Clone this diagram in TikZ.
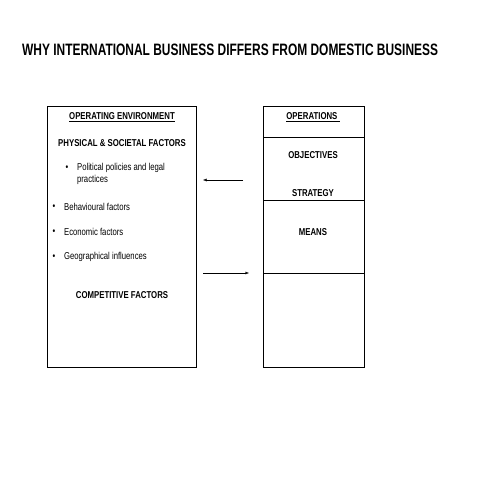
\documentclass[tikz,border=0pt]{standalone}
\usepackage{fontspec}
\setmainfont{Liberation Sans}
\usetikzlibrary{arrows.meta}
\begin{document}
\begin{tikzpicture}[x=1pt,y=-1pt,
  txt/.style={inner sep=0pt,font=\fontsize{10}{12}\selectfont,xscale=0.77},
  hd/.style={inner sep=0pt,font=\fontsize{10}{12}\selectfont\bfseries,xscale=0.78},
  ttl/.style={inner sep=0pt,font=\fontsize{16.5}{18}\selectfont\bfseries,xscale=0.724},
  arr/.style={-{Latex[length=3.5pt,width=3pt]}}]
\useasboundingbox (0,0) rectangle (480,480);
\pgfmathsetmacro{\lboxL}{47}
\pgfmathsetmacro{\lboxR}{196}
\pgfmathsetmacro{\rboxL}{263}
\pgfmathsetmacro{\rboxR}{364}
\pgfmathsetmacro{\boxT}{106}
\pgfmathsetmacro{\boxB}{367}
\node[ttl,anchor=west](title)at(22,50){WHY INTERNATIONAL BUSINESS DIFFERS FROM DOMESTIC BUSINESS};
% boxes
\draw[line width=0.7pt](\lboxL,\boxT)rectangle(\lboxR,\boxB);
\draw[line width=0.7pt](\rboxL,\boxT)rectangle(\rboxR,\boxB);
\foreach \y in {137,200,273}{\draw[line width=0.7pt](\rboxL,\y)--(\rboxR,\y);}
% left box
\node[hd](openv)at(122,117){\underline{OPERATING ENVIRONMENT}};
\node[hd](physoc)at(122,143){PHYSICAL \& SOCIETAL FACTORS};
\node[txt,anchor=west,align=left](polit)at(77,174){Political policies and legal\\practices};
\node[txt](bpolit)at(67,168){\textbullet};
\foreach \ky/\lb [count=\i] in {207/Behavioural factors,232/Economic factors,257/Geographical influences}{
  \node[txt](b\i)at(54,\ky){\textbullet};
  \node[txt,anchor=west](f\i)at(64,\ky){\lb};}
\node[hd](compet)at(122,295){COMPETITIVE FACTORS};
% right box
\node[hd](oper)at(313,117){\underline{OPERATIONS\ }};
\foreach \ky/\lb/\nm in {155/OBJECTIVES/obj,193/STRATEGY/strat,232/MEANS/means}{\node[hd](\nm)at(313,\ky){\lb};}
% arrows
\coordinate(inS)at(243,180);
\coordinate(inE)at(203,180);
\coordinate(outS)at(203,273);
\coordinate(outE)at(249,273);
\draw[arr](inS)--(inE);
\draw[arr](outS)--(outE);
\end{tikzpicture}
\end{document}
